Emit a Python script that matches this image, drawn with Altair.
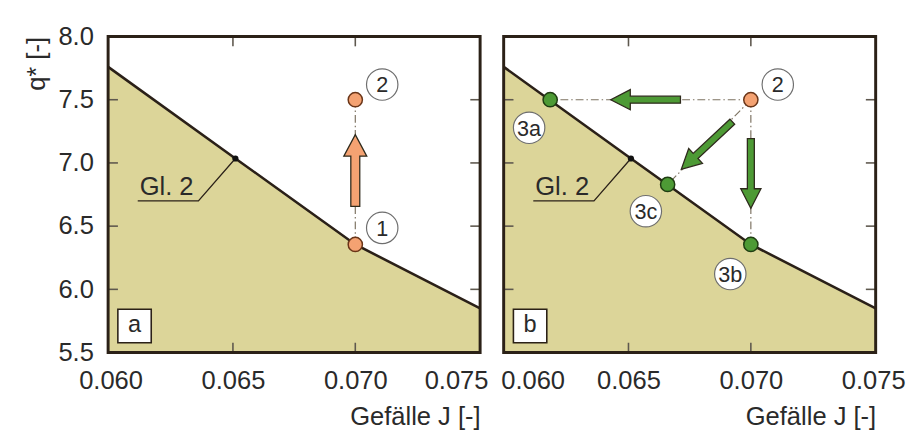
import altair as alt
import pandas as pd

# ---------------- data ----------------
J_curve = [0.0599, 0.0651, 0.0666, 0.0700, 0.0751]
q_curve = [7.76, 7.035, 6.828, 6.355, 5.85]

gl2_J = [0.0651, 0.06359, 0.06111]
gl2_q = [7.035, 6.70, 6.70]
gl2_text_J = [0.06229]
gl2_text_q = [6.745]

a_states = ["1", "2"]
a_J = [0.070, 0.070]
a_q = [6.355, 7.5]
a_kind = ["orange", "orange"]
a_lab_J = [0.0711, 0.0711]
a_lab_q = [6.486, 7.62]

b_states = ["2", "3a", "3b", "3c"]
b_J = [0.070, 0.0618, 0.070, 0.0666]
b_q = [7.5, 7.5, 6.355, 6.83]
b_kind = ["orange", "green", "green", "green"]
b_lab_J = [0.0711, 0.06094, 0.06916, 0.06571]
b_lab_q = [7.62, 7.278, 6.121, 6.618]

a_arrow_J = [0.070]
a_arrow_q = [6.94]
a_arrow_angle = [0]
a_arrow_kind = ["orange"]

b_arrow_J = [0.0657, 0.0682, 0.070]
b_arrow_q = [7.5, 7.138, 6.917]
b_arrow_angle = [270, 227, 180]
b_arrow_kind = ["green", "green", "green"]

# dash-dot guide segments: from state 2 / 1 to the others
a_seg_J = [0.070]; a_seg_q = [6.355]; a_seg_J2 = [0.070]; a_seg_q2 = [7.5]
b_seg_J = [0.070, 0.070, 0.070]; b_seg_q = [7.5, 7.5, 7.5]
b_seg_J2 = [0.0618, 0.070, 0.0666]; b_seg_q2 = [7.5, 6.355, 6.83]

panel_letter_J = [0.06098]
panel_letter_q = [5.71]

x_ticks = [0.060, 0.065, 0.070, 0.075]
y_ticks = [5.5, 6.0, 6.5, 7.0, 7.5, 8.0]
x_inner_ticks = [0.065, 0.070]
y_inner_ticks = [6.0, 6.5, 7.0, 7.5]

# ---------------- styles ----------------
FONT = "Liberation Sans"
FS = 26
FILL = "#dcd599"
LINE = "#2a2018"
FRAME = "#2b2117"
TXT = "#2a2a2a"
TICKC = "#5e584e"
TICKLEN = 10
W, H = 379, 322
XDOM = [0.0599, 0.0751]
YDOM = [5.5, 8.0]
xs = alt.Scale(domain=XDOM, nice=False, zero=False)
ys = alt.Scale(domain=YDOM, nice=False, zero=False)
kind_fill = alt.Scale(domain=["orange", "green"], range=["#f4a272", "#4d9a35"])
kind_stroke = alt.Scale(domain=["orange", "green"], range=["#6a3518", "#1f3d12"])

ARROW_WIDE = "M -0.125 1 L -0.125 -0.4 L -0.32 -0.4 L 0 -1 L 0.32 -0.4 L 0.125 -0.4 L 0.125 1 Z"
ARROW_SLIM = "M -0.1 1 L -0.1 -0.44 L -0.29 -0.44 L 0 -1 L 0.29 -0.44 L 0.1 -0.44 L 0.1 1 Z"

# tick length expressed in data units of each scale
DQ = TICKLEN * (YDOM[1] - YDOM[0]) / H
DJ = TICKLEN * (XDOM[1] - XDOM[0]) / W


def panel(letter, left):
    curve = pd.DataFrame({"J": J_curve, "q": q_curve})
    if left:
        pts = pd.DataFrame({"s": a_states, "J": a_J, "q": a_q, "kind": a_kind})
        labs = pd.DataFrame({"s": a_states, "J": a_lab_J, "q": a_lab_q})
        arr = pd.DataFrame({"J": a_arrow_J, "q": a_arrow_q, "angle": a_arrow_angle, "kind": a_arrow_kind})
        seg = pd.DataFrame({"J": a_seg_J, "q": a_seg_q, "J2": a_seg_J2, "q2": a_seg_q2})
        arrow_shape = ARROW_WIDE
        arrow_size = 73 ** 2
        lab_off = {"condition": {"test": "datum.value > 0.0745", "value": -22}, "value": 0}
    else:
        pts = pd.DataFrame({"s": b_states, "J": b_J, "q": b_q, "kind": b_kind})
        labs = pd.DataFrame({"s": b_states, "J": b_lab_J, "q": b_lab_q})
        arr = pd.DataFrame({"J": b_arrow_J, "q": b_arrow_q, "angle": b_arrow_angle, "kind": b_arrow_kind})
        seg = pd.DataFrame({"J": b_seg_J, "q": b_seg_q, "J2": b_seg_J2, "q2": b_seg_q2})
        arrow_shape = ARROW_SLIM
        arrow_size = 71 ** 2
        lab_off = {"condition": {"test": "datum.value < 0.0605", "value": 27}, "value": 0}

    xaxis_bottom = alt.Axis(values=x_ticks, format=".3f", orient="bottom", ticks=False, domain=False,
                            grid=False, labelFont=FONT, labelFontSize=FS, labelColor=TXT,
                            labelPadding=16, labelOffset=lab_off, title="Gefälle J [-]",
                            titleFont=FONT, titleFontSize=FS, titleFontWeight="normal",
                            titleColor=TXT, titleAnchor="end", titlePadding=10)
    yaxis_left = alt.Axis(values=y_ticks, format=".1f", orient="left", ticks=False, domain=False,
                          grid=False, labels=left, labelFont=FONT, labelFontSize=FS, labelColor=TXT,
                          labelPadding=15, title="q* [-]" if left else None, titleFont=FONT,
                          titleFontSize=FS, titleFontWeight="normal", titleColor=TXT,
                          titleAnchor="end", titlePadding=9)

    def X(f="J"):
        return alt.X(f"{f}:Q", scale=xs, axis=None)

    def Y(f="q"):
        return alt.Y(f"{f}:Q", scale=ys, axis=None)

    area = alt.Chart(curve).mark_area(color=FILL, opacity=1).encode(
        x=alt.X("J:Q", scale=xs, axis=xaxis_bottom),
        y=alt.Y("q:Q", scale=ys, axis=yaxis_left),
        y2=alt.datum(YDOM[0]))
    line = alt.Chart(curve).mark_line(color=LINE, strokeWidth=2.6).encode(x=X(), y=Y())

    # inner tick marks on all four sides
    xt_rows = []
    for j in x_inner_ticks:
        xt_rows.append({"J": j, "q": YDOM[0], "J2": j, "q2": YDOM[0] + DQ})
        xt_rows.append({"J": j, "q": YDOM[1], "J2": j, "q2": YDOM[1] - DQ})
    for q in y_inner_ticks:
        xt_rows.append({"J": XDOM[0], "q": q, "J2": XDOM[0] + DJ, "q2": q})
        xt_rows.append({"J": XDOM[1], "q": q, "J2": XDOM[1] - DJ, "q2": q})
    ticks = alt.Chart(pd.DataFrame(xt_rows)).mark_rule(color=TICKC, strokeWidth=1.6, opacity=1).encode(
        x=X(), y=Y(), x2="J2:Q", y2="q2:Q")

    leader_df = pd.DataFrame({"J": gl2_J, "q": gl2_q, "i": list(range(len(gl2_J)))})
    leader = alt.Chart(leader_df).mark_line(color=LINE, strokeWidth=1.3).encode(
        x=X(), y=Y(), order="i:O")
    dot = alt.Chart(leader_df.iloc[[0]]).mark_circle(size=40, color="#111", opacity=1).encode(x=X(), y=Y())
    gl_txt = alt.Chart(pd.DataFrame({"J": gl2_text_J, "q": gl2_text_q})).mark_text(
        text="Gl. 2", font=FONT, fontSize=FS, color=TXT, baseline="alphabetic", align="center").encode(
        x=X(), y=Y())

    segs = alt.Chart(seg).mark_rule(color="#7d7362", strokeWidth=1.2, strokeDash=[8, 3, 1.5, 3]).encode(
        x=X(), y=Y(), x2="J2:Q", y2="q2:Q")

    arrows = alt.Chart(arr).mark_point(shape=arrow_shape, filled=True, size=arrow_size, opacity=1,
                                       stroke="#2e2a1c", strokeWidth=1.3).encode(
        x=X(), y=Y(), angle=alt.Angle("angle:Q", scale=None),
        fill=alt.Fill("kind:N", scale=kind_fill, legend=None))

    points = alt.Chart(pts).mark_point(shape="circle", filled=True, size=210, opacity=1,
                                       strokeWidth=1.5).encode(
        x=X(), y=Y(),
        fill=alt.Fill("kind:N", scale=kind_fill, legend=None),
        stroke=alt.Stroke("kind:N", scale=kind_stroke, legend=None))

    lab_circ = alt.Chart(labs).mark_point(shape="circle", filled=True, size=32 ** 2, fill="white",
                                          opacity=1, stroke="#6e6e6e", strokeWidth=1.2).encode(x=X(), y=Y())
    lab_txt = alt.Chart(labs).mark_text(font=FONT, fontSize=22, color=TXT, baseline="middle",
                                        align="center", dy=1).encode(x=X(), y=Y(), text="s:N")

    box_df = pd.DataFrame({"J": panel_letter_J, "q": panel_letter_q, "t": [letter]})
    box = alt.Chart(box_df).mark_point(shape="square", filled=True, size=34 ** 2, fill="white",
                                       opacity=1, stroke=FRAME, strokeWidth=1.6).encode(x=X(), y=Y())
    box_txt = alt.Chart(box_df).mark_text(font=FONT, fontSize=24, color=TXT, baseline="middle",
                                          align="center", dy=-1).encode(x=X(), y=Y(), text="t:N")

    frame = alt.Chart(box_df).mark_rect(filled=False, fill="transparent", stroke=FRAME,
                                        strokeWidth=3).encode(
        x=alt.value(0), x2=alt.value("width"), y=alt.value(0), y2=alt.value("height"))

    return alt.layer(area, ticks, line, segs, leader, dot, gl_txt, arrows, points, lab_circ,
                     lab_txt, box, box_txt, frame).resolve_axis(
        x="independent", y="independent").properties(width=W, height=H)


chart = alt.hconcat(panel("a", True), panel("b", False), spacing=24, bounds="flush").configure_view(
    stroke=None).properties(background="white",
                            padding={"left": 15, "top": 12, "right": 5, "bottom": 5})

chart.save("out.html", embed_options={"renderer": "svg", "actions": False})
